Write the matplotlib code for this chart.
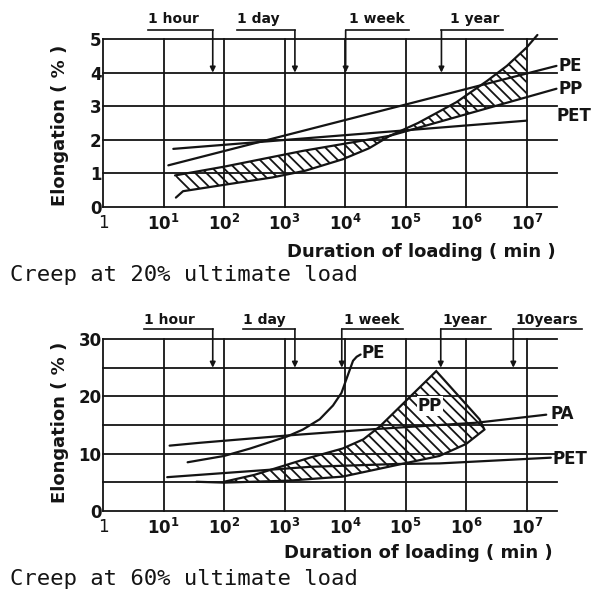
import matplotlib
matplotlib.use('Agg')
import matplotlib.pyplot as plt
import numpy as np
from matplotlib.patches import Polygon

plt.rcParams['font.family'] = ['DejaVu Sans']
plt.rcParams['mathtext.fontset'] = 'dejavusans'
plt.rcParams['mathtext.default'] = 'bf'
plt.rcParams['hatch.linewidth'] = 1.3
plt.rcParams['hatch.color'] = '#141414'

INK = '#141414'

# ---------------- shared axis values ----------------
x_tick_minutes = [1, 1e1, 1e2, 1e3, 1e4, 1e5, 1e6, 1e7]
x_tick_labels = ['1', r'$10^{1}$', r'$10^{2}$', r'$10^{3}$', r'$10^{4}$',
                 r'$10^{5}$', r'$10^{6}$', r'$10^{7}$']
x_label = 'Duration of loading ( min )'
y_label = 'Elongation ( % )'

# ---------------- top chart: creep at 20% ultimate load ----------------
top_caption = 'Creep at 20% ultimate load'
top_y_ticks = [0, 1, 2, 3, 4, 5]
top_time_labels = ['1 hour', '1 day', '1 week', '1 year']
top_time_minutes = [65, 1.48e3, 1.02e4, 3.9e5]

top_pe_t = [12, 3.1e7]
top_pe_v = [1.24, 4.2]
top_pet_t = [14.5, 1.0e7]
top_pet_v = [1.73, 2.57]
top_pp_t = [5.5e4, 3.1e7]
top_pp_v = [2.12, 3.52]
# hatched band, left part (pinches at ~5.5e4 min)
top_band_up_t = [15.5, 100, 2.0e3, 1.6e4, 5.5e4]
top_band_up_v = [0.94, 1.2, 1.67, 1.95, 2.12]
top_band_lo_t = [16, 21, 100, 630, 2.2e3, 9.1e3, 2.5e4, 5.5e4]
top_band_lo_v = [0.28, 0.47, 0.66, 0.88, 1.08, 1.42, 1.75, 2.12]
# hatched band, right part upper edge
top_band2_up_t = [5.5e4, 1.6e5, 6.9e5, 2.2e6, 4.7e6, 1.0e7, 1.5e7]
top_band2_up_v = [2.12, 2.5, 3.12, 3.75, 4.2, 4.75, 5.12]

# ---------------- bottom chart: creep at 60% ultimate load ----------------
bot_caption = 'Creep at 60% ultimate load'
bot_y_ticks = [0, 10, 20, 30]
bot_grid_y = [5, 10, 15, 20, 25, 30]
bot_time_labels = ['1 hour', '1 day', '1 week', '1year', '10years']
bot_time_minutes = [65, 1.48e3, 8.8e3, 3.8e5, 6.0e6]

bot_pe_t = [25, 100, 270, 1.1e3, 2.0e3, 3.8e3, 6.3e3, 8.7e3, 1.1e4, 1.35e4, 1.55e4, 1.8e4]
bot_pe_v = [8.5, 9.6, 10.9, 13.0, 14.2, 16.0, 18.4, 20.6, 23.6, 26.2, 26.9, 27.3]
bot_pa_t = [12.6, 40, 1.2e3, 3.2e4, 3.6e5, 1.5e6, 2.1e7]
bot_pa_v = [11.4, 11.9, 13.2, 14.3, 15.0, 15.4, 16.8]
bot_pet_t = [11.5, 2.6e3, 7.1e4, 3.6e5, 2.5e7]
bot_pet_v = [5.9, 7.7, 8.2, 8.3, 9.3]
bot_pp_tail_t = [35, 100]
bot_pp_tail_v = [5.1, 4.95]
bot_band_up_t = [100, 316, 1.2e3, 2.6e3, 9.1e3, 2.0e4, 3.7e4, 3.2e5]
bot_band_up_v = [5.1, 6.3, 8.2, 9.3, 10.9, 12.5, 14.7, 24.4]
bot_band_edge_t = [3.2e5, 1.66e6, 2.0e6]
bot_band_edge_v = [24.4, 16.0, 14.2]
bot_band_lo_t = [2.0e6, 1.0e6, 3.6e5, 9.5e4, 9.1e3, 1.2e3, 100]
bot_band_lo_v = [14.2, 11.7, 9.6, 8.3, 6.0, 5.3, 4.95]

# ---------------- figure ----------------
fig = plt.figure(figsize=(5.92, 5.90), dpi=100)
W, H = 592.0, 590.0
ax_top = fig.add_axes([103 / W, 1 - 207 / H, 454 / W, 168 / H])
ax_bot = fig.add_axes([103 / W, 1 - 511 / H, 454 / W, 172 / H])

XMAX = 10 ** 7.5
LW_GRID = 1.3
LW_CURVE = 1.6
HATCH = '\\\\\\'


def frame(ax, ymax, grid_y, yticks):
    ax.set_xscale('log')
    ax.set_xlim(1, XMAX)
    ax.set_ylim(0, ymax)
    for s in ['top', 'right']:
        ax.spines[s].set_visible(False)
    for s in ['left', 'bottom']:
        ax.spines[s].set_linewidth(LW_GRID)
        ax.spines[s].set_color(INK)
    for g in grid_y:
        ax.plot([1, XMAX], [g, g], color=INK, lw=LW_GRID, clip_on=False, zorder=1)
    for xm in x_tick_minutes[1:]:
        ax.plot([xm, xm], [0, ymax], color=INK, lw=LW_GRID, clip_on=False, zorder=1)
    ax.set_xticks(x_tick_minutes)
    ax.set_xticklabels(x_tick_labels)
    ax.minorticks_off()
    ax.set_yticks(yticks)
    ax.set_yticklabels([str(v) for v in yticks])
    ax.tick_params(length=0, labelsize=12, colors=INK)
    ax.tick_params(axis='x', pad=5)
    ax.tick_params(axis='y', pad=1)
    for lab in ax.get_yticklabels():
        lab.set_fontweight('bold')
    ax.patch.set_alpha(0)


frame(ax_top, 5, [1, 2, 3, 4, 5], top_y_ticks)
frame(ax_bot, 30, bot_grid_y, bot_y_ticks)


def curve(ax, t, v):
    ax.plot(t, v, color=INK, lw=LW_CURVE, clip_on=False, zorder=3,
            solid_capstyle='round', solid_joinstyle='round')


# ---- top curves
curve(ax_top, top_pe_t, top_pe_v)
curve(ax_top, top_pet_t, top_pet_v)
curve(ax_top, top_pp_t, top_pp_v)
curve(ax_top, top_band_up_t, top_band_up_v)
curve(ax_top, top_band_lo_t, top_band_lo_v)
curve(ax_top, top_band2_up_t, top_band2_up_v)

poly1 = list(zip(top_band_up_t, top_band_up_v)) + list(zip(top_band_lo_t[1:], top_band_lo_v[1:]))[::-1]
ax_top.add_patch(Polygon(poly1, closed=True, facecolor='none', edgecolor=INK,
                         lw=0, hatch=HATCH, zorder=2))
# right part: up to 10^7, bounded below by PP line
pp_at_1e7 = np.interp(7.0, np.log10(top_pp_t), top_pp_v)
r_up = [(t, v) for t, v in zip(top_band2_up_t, top_band2_up_v) if t <= 1.0e7]
poly2 = r_up + [(1.0e7, pp_at_1e7), (top_pp_t[0], top_pp_v[0])]
ax_top.add_patch(Polygon(poly2, closed=True, facecolor='none', edgecolor=INK,
                         lw=0, hatch=HATCH, zorder=2))

lab_kw = dict(fontsize=12, fontweight='bold', color=INK, va='center', ha='left',
              clip_on=False)
ax_top.text(10 ** 7.52, 4.2, 'PE', **lab_kw)
ax_top.text(10 ** 7.52, 3.52, 'PP', **lab_kw)
ax_top.text(10 ** 7.5, 2.72, 'PET', **lab_kw)

# ---- bottom curves
curve(ax_bot, bot_pe_t, bot_pe_v)
curve(ax_bot, bot_pa_t, bot_pa_v)
curve(ax_bot, bot_pet_t, bot_pet_v)
curve(ax_bot, bot_pp_tail_t, bot_pp_tail_v)
outline_t = bot_band_up_t + bot_band_edge_t[1:] + bot_band_lo_t[1:]
outline_v = bot_band_up_v + bot_band_edge_v[1:] + bot_band_lo_v[1:]
ax_bot.add_patch(Polygon(list(zip(outline_t, outline_v)), closed=True,
                         facecolor='none', edgecolor=INK, lw=LW_CURVE,
                         hatch=HATCH, zorder=2))
ax_bot.text(10 ** 4.27, 27.5, 'PE', **lab_kw)
ax_bot.text(10 ** 7.4, 16.9, 'PA', **lab_kw)
ax_bot.text(10 ** 7.42, 9.0, 'PET', **lab_kw)
ax_bot.text(10 ** 5.4, 18.3, 'PP', fontsize=12, fontweight='bold', color=INK,
            ha='center', va='center', zorder=4,
            bbox=dict(boxstyle='square,pad=0.05', fc='white', ec='none'))

# ---- axis titles and captions
for ax, ycen_px, xcen_px, xlab_px, cap_px, cap in [
        (ax_top, 125, 421, 252, 275, top_caption),
        (ax_bot, 422, 418, 553, 579, bot_caption)]:
    fig.text(60 / W, 1 - ycen_px / H, y_label, rotation=90, ha='center',
             va='center', fontsize=13, fontweight='bold', color=INK)
    fig.text(xcen_px / W, 1 - xlab_px / H, x_label, ha='center', va='center',
             fontsize=13, fontweight='bold', color=INK)
    fig.text(10 / W, 1 - cap_px / H, cap, ha='left', va='center',
             family='DejaVu Sans Mono', fontsize=16, color=INK)

# ---- time-mark brackets
fig.canvas.draw()
renderer = fig.canvas.get_renderer()


def time_marks(ax, labels, minutes, offsets, y_text, y_line, y_arrow):
    texts = []
    for lab, m, off in zip(labels, minutes, offsets):
        t = ax.text(m * 10 ** off, y_text, lab, ha='center', va='center',
                    fontsize=10, fontweight='bold', color=INK, clip_on=False)
        texts.append(t)
    fig.canvas.draw()
    inv = ax.transData.inverted()
    for t, m in zip(texts, minutes):
        bb = t.get_window_extent(renderer)
        x0 = inv.transform((bb.x0, 0))[0]
        x1 = inv.transform((bb.x1 + 4, 0))[0]
        xa, xb = min(x0, m), max(x1, m)
        ax.plot([xa, xb], [y_line, y_line], color=INK, lw=1.2, clip_on=False)
        ax.annotate('', xy=(m, y_arrow), xytext=(m, y_line),
                    arrowprops=dict(arrowstyle='-|>', lw=1.2, color=INK,
                                    mutation_scale=8, shrinkA=0, shrinkB=0),
                    annotation_clip=False)


time_marks(ax_top, top_time_labels, top_time_minutes,
           [-0.65, -0.61, 0.52, 0.55], 5.59, 5.26, 4.0)
time_marks(ax_bot, bot_time_labels, bot_time_minutes,
           [-0.71, -0.5, 0.49, 0.39, 0.55], 33.3, 31.75, 25.0)

fig.savefig('out.png', dpi=100, facecolor='white')
